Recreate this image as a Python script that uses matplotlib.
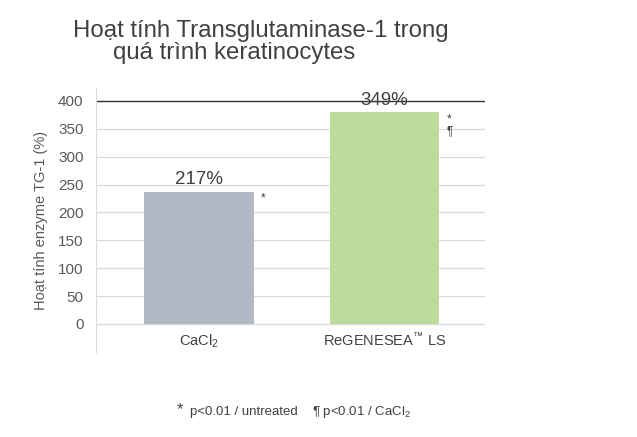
import matplotlib.pyplot as plt

plt.rcParams['font.family'] = ['Liberation Sans', 'DejaVu Sans']

categories = ['CaCl$_\\mathregular{2}$', 'ReGENESEA$^\\mathregular{™}$ LS']
values = [237, 380]
labels = ['217%', '349%']
marks = ['*', '*\n¶']
colors = ['#B1B9C5', '#BDDC9B']
yticks = [0, 50, 100, 150, 200, 250, 300, 350, 400]

fig = plt.figure(figsize=(6.37, 4.37), dpi=100)
ax = fig.add_axes([0.1507, 0.1945, 0.61, 0.6041])

x = [0, 1]
ax.bar(x, values, width=0.59, color=colors, zorder=2)
ax.set_xlim(-0.554, 0.538 + 1)
ax.set_ylim(-50.2, 423)

# grid lines, top one dark
for t in yticks:
    ax.axhline(t, color='#D9D9D9' if t < 400 else '#333333', lw=0.9 if t < 400 else 1.0, zorder=1)

ax.set_yticks(yticks)
ax.set_xticks([])
ax.tick_params(axis='y', length=0, pad=9, labelsize=11, labelcolor='#595959')
for s in ['top', 'right', 'bottom']:
    ax.spines[s].set_visible(False)
ax.spines['left'].set_color('#D9D9D9')
ax.set_ylabel('Hoạt tính enzyme TG-1 (%)', fontsize=10.5, color='#595959', labelpad=7)

for i in range(2):
    ax.text(x[i], values[i] + 6, labels[i], ha='center', va='bottom', fontsize=13.5, color='#404040', zorder=3)
    ax.text(x[i] + 0.295 + 0.04, values[i] - 2, marks[i], ha='left', va='top', fontsize=8.5,
            color='#404040', linespacing=1.0)
    ax.text(x[i], -30, categories[i], ha='center', va='center', fontsize=10.5, color='#404040')

fig.text(73 / 637, 1 - 31 / 437, 'Hoạt tính Transglutaminase-1 trong', fontsize=17.3,
         color='#404040', ha='left', va='center')
fig.text(113 / 637, 1 - 53 / 437, 'quá trình keratinocytes', fontsize=17.3,
         color='#404040', ha='left', va='center')

fig.text(177 / 637, 1 - 410 / 437, '*', fontsize=12, color='#404040', ha='left', va='center')
fig.text(190 / 637, 1 - 412 / 437, 'p<0.01 / untreated', fontsize=9.5, color='#404040', ha='left', va='center')
fig.text(312 / 637, 1 - 412 / 437, '¶ p<0.01 / CaCl$_\\mathregular{2}$', fontsize=9.5, color='#404040',
         ha='left', va='center')

fig.savefig('out.png', dpi=100)
